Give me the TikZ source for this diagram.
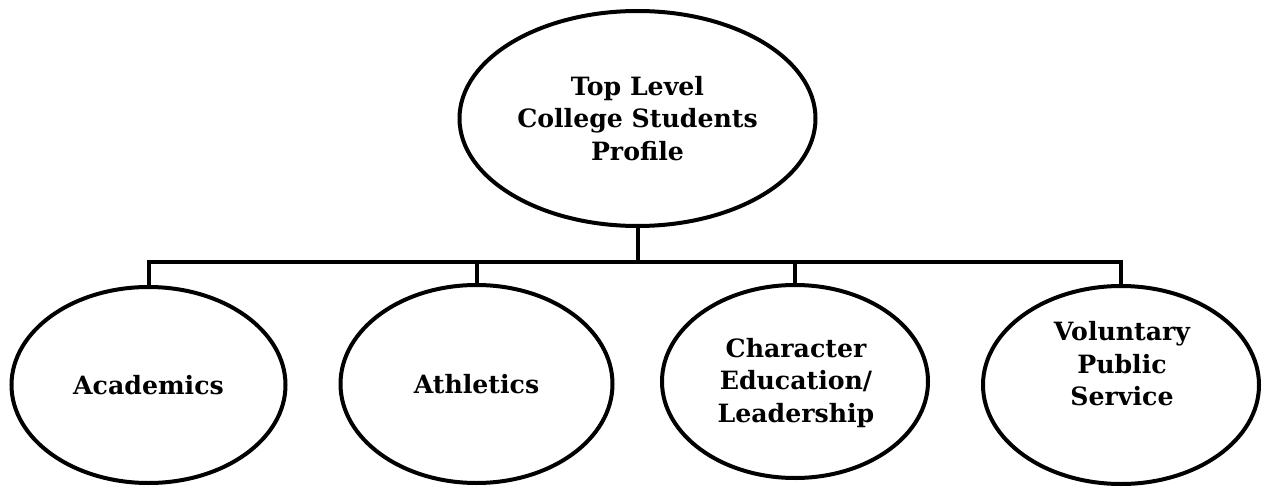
\documentclass[tikz,border=0pt]{standalone}
\usepackage{fontspec}
\setmainfont{DejaVu Serif}
\usetikzlibrary{shapes.geometric}
\tikzset{
  oval/.style={ellipse, draw=black, line width=4pt, inner sep=0pt, align=center,
    font=\bfseries\fontsize{25.2}{32.5}\selectfont},
  conn/.style={draw=black, line width=4pt, line join=miter}
}
\begin{document}
\begin{tikzpicture}[x=1pt,y=-1pt]
\useasboundingbox (0,0) rectangle (1262,487);
\node[oval, minimum width=356pt, minimum height=215pt] (top) at (637.5,118.5) {Top Level\\College Students\\Profile};
\node[oval, minimum width=274pt, minimum height=196pt] (acad) at (148.5,385) {Academics};
\node[oval, minimum width=272pt, minimum height=198pt] (ath) at (476.5,384) {Athletics};
\node[oval, minimum width=266pt, minimum height=193pt] (char) at (795,381.5) {};
\node[font=\bfseries\fontsize{25.2}{32.5}\selectfont, align=center, inner sep=0pt] (chartext) at (796,383) {Character\\Education/\\Leadership};
\node[oval, minimum width=276pt, minimum height=198pt] (vol) at (1121,385) {};
\node[font=\bfseries\fontsize{25.2}{32.5}\selectfont, align=center, inner sep=0pt] (voltext) at (1122,364) {Voluntary\\Public\\Service};
\coordinate (bus) at (0,262);
\draw[conn] (acad.north) -- (acad.north |- bus) -- (vol.north |- bus) -- (vol.north);
\draw[conn] (top.south) -- (top.south |- bus);
\draw[conn] (ath.north) -- (ath.north |- bus);
\draw[conn] (char.north) -- (char.north |- bus);
\end{tikzpicture}
\end{document}
